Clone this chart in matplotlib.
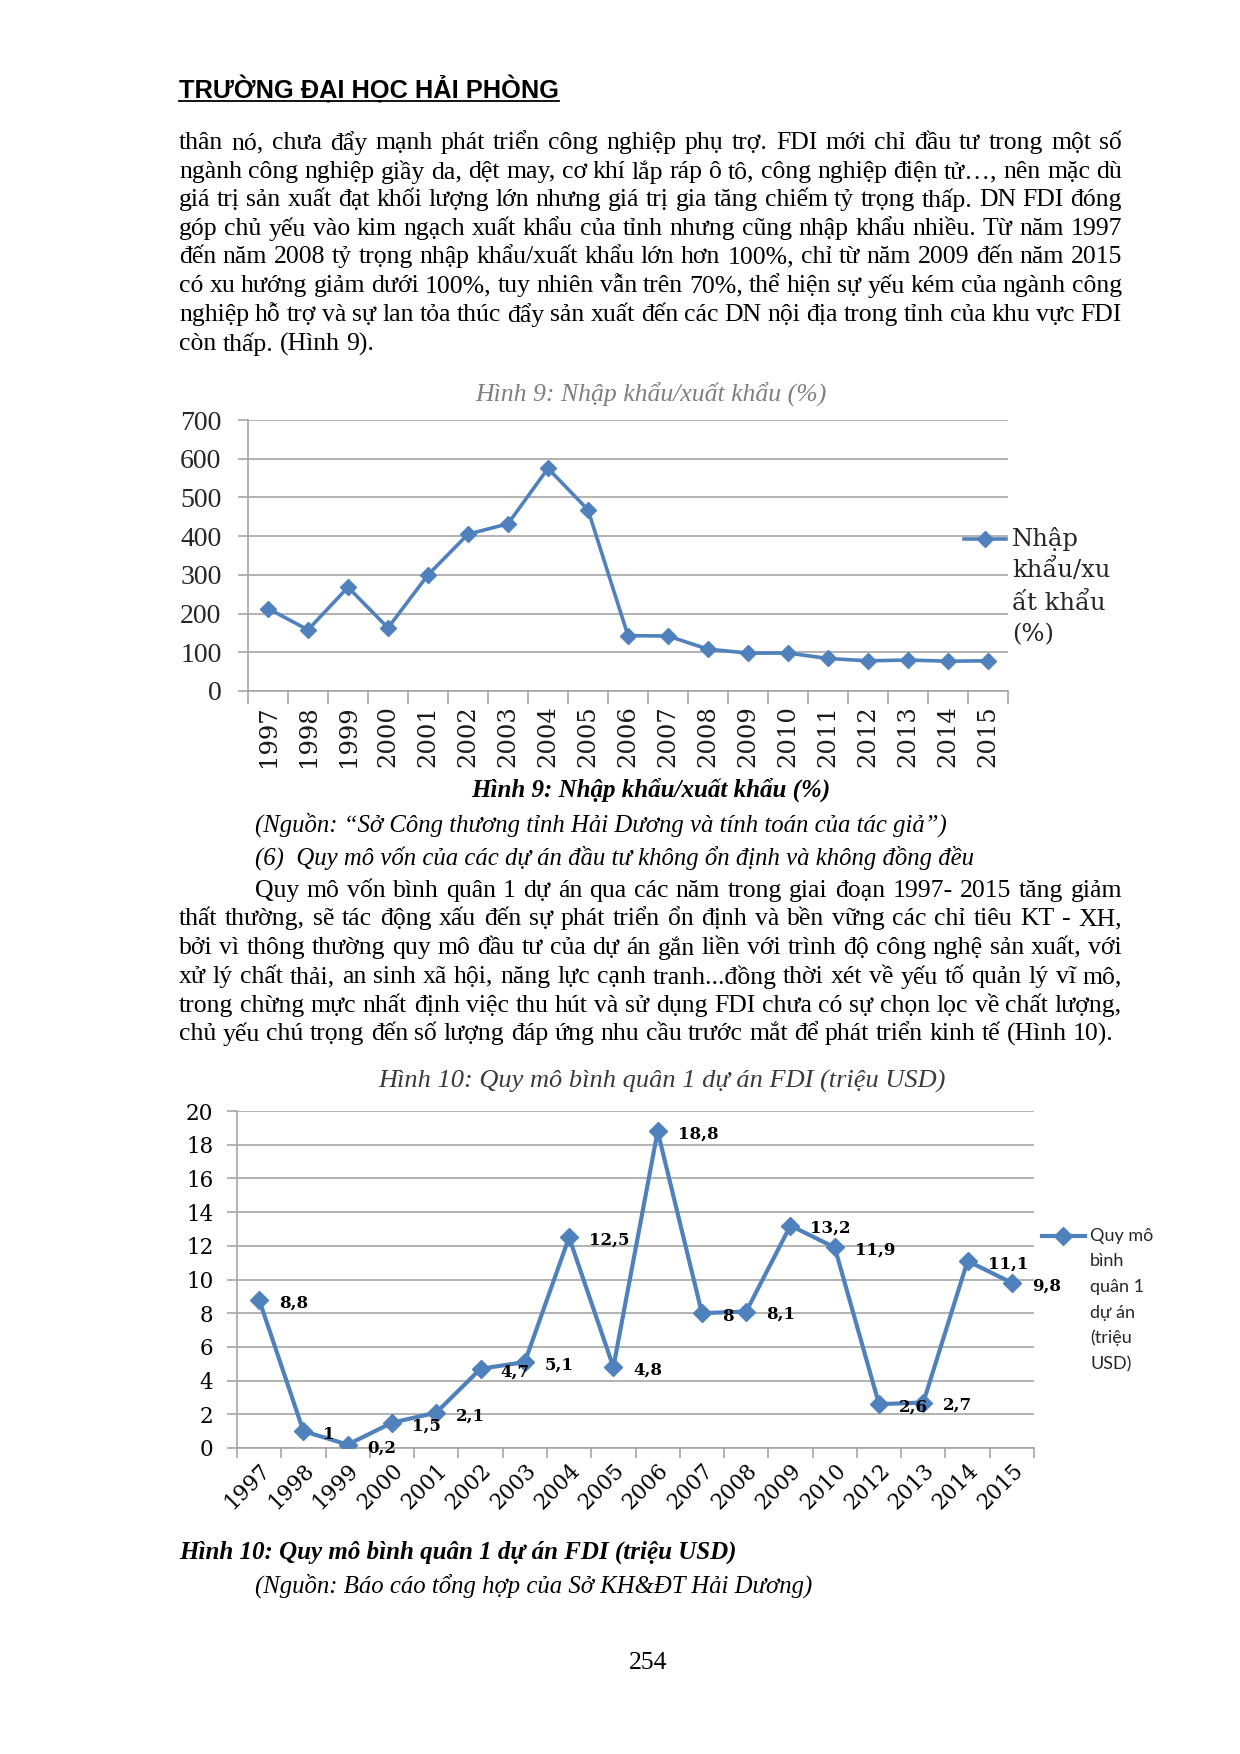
import matplotlib
matplotlib.use('Agg')
import matplotlib.pyplot as plt
from matplotlib.lines import Line2D

W, H = 1240, 1754
SERIF = ['Liberation Serif', 'DejaVu Serif']
CAMBRIA = ['DejaVu Serif']
BLUE = '#4F81BD'
GRID = '#A6A6A6'

# ---- data ----
years_h9 = ['1997', '1998', '1999', '2000', '2001', '2002', '2003', '2004', '2005', '2006',
            '2007', '2008', '2009', '2010', '2011', '2012', '2013', '2014', '2015']
ratio_h9 = [213, 158, 268, 163, 300, 405, 432, 575, 468, 143,
            142, 108, 98, 98, 84, 78, 80, 77, 78]

years_h10 = ['1997', '1998', '1999', '2000', '2001', '2002', '2003', '2004', '2005', '2006',
             '2007', '2008', '2009', '2010', '2012', '2013', '2014', '2015']
size_h10 = [8.8, 1, 0.2, 1.5, 2.1, 4.7, 5.1, 12.5, 4.8, 18.8,
            8, 8.1, 13.2, 11.9, 2.6, 2.7, 11.1, 9.8]

header = 'TRƯỜNG ĐẠI HỌC HẢI PHÒNG'
para1 = [
    'thân nó, chưa đẩy mạnh phát triển công nghiệp phụ trợ. FDI mới chỉ đầu tư trong một số',
    'ngành công nghiệp giầy da, dệt may, cơ khí lắp ráp ô tô, công nghiệp điện tử…, nên mặc dù',
    'giá trị sản xuất đạt khối lượng lớn nhưng giá trị gia tăng chiếm tỷ trọng thấp. DN FDI đóng',
    'góp chủ yếu vào kim ngạch xuất khẩu của tỉnh nhưng cũng nhập khẩu nhiều. Từ năm 1997',
    'đến năm 2008 tỷ trọng nhập khẩu/xuất khẩu lớn hơn 100%, chỉ từ năm 2009 đến năm 2015',
    'có xu hướng giảm dưới 100%, tuy nhiên vẫn trên 70%, thể hiện sự yếu kém của ngành công',
    'nghiệp hỗ trợ và sự lan tỏa thúc đẩy sản xuất đến các DN nội địa trong tỉnh của khu vực FDI',
    'còn thấp. (Hình 9).',
]
para2 = [
    'Quy mô vốn bình quân 1 dự án qua các năm trong giai đoạn 1997- 2015 tăng giảm',
    'thất thường, sẽ tác động xấu đến sự phát triển ổn định và bền vững các chỉ tiêu KT - XH,',
    'bởi vì thông thường quy mô đầu tư của dự án gắn liền với trình độ công nghệ sản xuất, với',
    'xử lý chất thải, an sinh xã hội, năng lực cạnh tranh...đồng thời xét về yếu tố quản lý vĩ mô,',
    'trong chừng mực nhất định việc thu hút và sử dụng FDI chưa có sự chọn lọc về chất lượng,',
    'chủ yếu chú trọng đến số lượng đáp ứng nhu cầu trước mắt để phát triển kinh tế (Hình 10).',
]

fig = plt.figure(figsize=(W / 100, H / 100), dpi=100)
renderer = fig.canvas.get_renderer()


def fx(x):
    return x / W


def fy(y):
    return 1 - y / H


def justify(line, y, x0, x1, size, last=False):
    words = line.split()
    texts = [fig.text(0, 0, w, fontsize=size, family=SERIF, va='center') for w in words]
    widths = [t.get_window_extent(renderer).width for t in texts]
    if last or len(words) == 1:
        space = size * 100 / 72 * 0.25
    else:
        space = (x1 - x0 - sum(widths)) / (len(words) - 1)
    x = x0
    for t, w in zip(texts, widths):
        t.set_position((fx(x), fy(y)))
        x += w + space


BODY = 18.5
CAP = 17.8
LEFT, RIGHT = 179, 1122

# header with underline
ht = fig.text(fx(LEFT), fy(89), header, fontsize=18.3, weight='bold',
              family=['Liberation Sans', 'DejaVu Sans'], va='center')
hw = ht.get_window_extent(renderer).width
fig.add_artist(Line2D([fx(LEFT), fx(LEFT + hw)], [fy(101), fy(101)], color='black', lw=1.3))

ys1 = [143, 172, 200, 229, 257, 286, 315, 344]
for i, (line, y) in enumerate(zip(para1, ys1)):
    justify(line, y, LEFT, RIGHT, BODY, last=(i == len(para1) - 1))

# ---- chart 1 ----
ax1 = fig.add_axes([fx(248), fy(691), (1008 - 248) / W, (691 - 420) / H])
x1 = range(len(years_h9))
ax1.plot(x1, ratio_h9, color=BLUE, lw=2.6, marker='D', ms=8.5, zorder=3)
ax1.set_xlim(-0.5, len(years_h9) - 0.5)
ax1.set_ylim(0, 700)
ax1.set_yticks(range(0, 701, 100))
ax1.yaxis.grid(True, color=GRID, lw=1.2)
ax1.set_axisbelow(True)
ax1.set_xticks([i - 0.5 for i in range(len(years_h9) + 1)])
ax1.set_xticklabels([])
ax1.set_xticks(list(x1), minor=True)
ax1.set_xticklabels(years_h9, minor=True, rotation=90, fontsize=17.5, family=CAMBRIA, color='#1a1a1a')
ax1.tick_params(axis='x', which='major', length=9, color=GRID, width=1.2, direction='out')
ax1.tick_params(axis='x', which='minor', length=0, pad=10)
ax1.tick_params(axis='y', length=7, color=GRID, width=1.2, pad=12)
for lab in ax1.get_yticklabels():
    lab.set_fontsize(20)
    lab.set_family(SERIF)
    lab.set_color('#262626')
for s in ['top', 'right']:
    ax1.spines[s].set_visible(False)
ax1.spines['left'].set_color(GRID)
ax1.spines['bottom'].set_color(GRID)
ax1.spines['left'].set_linewidth(1.2)
ax1.spines['bottom'].set_linewidth(1.2)

fig.text(fx(651), fy(394), 'Hình 9: Nhập khẩu/xuất khẩu (%)', fontsize=18.5, style='italic',
         family=SERIF, color='#7F7F7F', ha='center', va='center')

fig.add_artist(Line2D([fx(964), fx(1006)], [fy(539), fy(539)], color=BLUE, lw=2.6))
fig.add_artist(Line2D([fx(985)], [fy(539)], color=BLUE, marker='D', ms=8.5, lw=0))
for txt, y in zip(['Nhập', 'khẩu/xu', 'ất khẩu', '(%)'], [539, 570, 603, 635]):
    fig.text(fx(1012), fy(y), txt, fontsize=17.5, family=CAMBRIA, color='#262626', va='center')

# captions
fig.text(fx(651), fy(790), 'Hình 9: Nhập khẩu/xuất khẩu (%)', fontsize=18, style='italic',
         weight='bold', family=SERIF, ha='center', va='center')
fig.text(fx(255), fy(825), '(Nguồn: “Sở Công thương tỉnh Hải Dương và tính toán của tác giả”)',
         fontsize=CAP, style='italic', family=SERIF, va='center')
fig.text(fx(255), fy(858), '(6)  Quy mô vốn của các dự án đầu tư không ổn định và không đồng đều',
         fontsize=CAP, style='italic', family=SERIF, va='center')

ys2 = [891, 919, 948, 977, 1006, 1034]
for i, (line, y) in enumerate(zip(para2, ys2)):
    x0 = 255 if i == 0 else LEFT
    justify(line, y, x0, RIGHT, BODY, last=(i == len(para2) - 1))

# ---- chart 2 ----
ax2 = fig.add_axes([fx(237), fy(1448), (1034 - 237) / W, (1448 - 1111) / H])
x2 = range(len(years_h10))
ax2.plot(x2, size_h10, color=BLUE, lw=3, marker='D', ms=9, zorder=3)
ax2.set_xlim(-0.5, len(years_h10) - 0.5)
ax2.set_ylim(0, 20)
ax2.set_yticks(range(0, 21, 2))
ax2.yaxis.grid(True, color=GRID, lw=1.2)
ax2.set_axisbelow(True)
ax2.set_xticks([i - 0.5 for i in range(len(years_h10) + 1)])
ax2.set_xticklabels([])
ax2.set_xticks(list(x2), minor=True)
ax2.set_xticklabels(years_h10, minor=True, rotation=45, ha='right', rotation_mode='anchor',
                    fontsize=15.5, family=CAMBRIA, color='black')
ax2.tick_params(axis='x', which='major', length=7, color=GRID, width=1.2, direction='out')
ax2.tick_params(axis='x', which='minor', length=0, pad=8)
ax2.tick_params(axis='y', length=7, color=GRID, width=1.2, pad=10)
for lab in ax2.get_yticklabels():
    lab.set_fontsize(15.5)
    lab.set_family(CAMBRIA)
for s in ['top', 'right']:
    ax2.spines[s].set_visible(False)
ax2.spines['left'].set_color(GRID)
ax2.spines['bottom'].set_color(GRID)
ax2.spines['left'].set_linewidth(1.2)
ax2.spines['bottom'].set_linewidth(1.2)

for xi, v in zip(x2, size_h10):
    ax2.annotate(f'{v:g}'.replace('.', ','), (xi, v), xytext=(20, -3), textcoords='offset pixels',
                 fontsize=12, weight='bold', family=CAMBRIA, va='center', ha='left', zorder=4)

fig.text(fx(662), fy(1081), 'Hình 10: Quy mô bình quân 1 dự án FDI (triệu USD)', fontsize=19,
         style='italic', family=SERIF, color='#3a3a3a', ha='center', va='center')

fig.add_artist(Line2D([fx(1042), fx(1085)], [fy(1236), fy(1236)], color=BLUE, lw=3))
fig.add_artist(Line2D([fx(1063)], [fy(1236)], color=BLUE, marker='D', ms=9, lw=0))
leg2 = ['Quy mô', 'bình', 'quân 1', 'dự án', '(triệu', 'USD)']
for txt, y in zip(leg2, [1236, 1261, 1287, 1313, 1338, 1364]):
    fig.text(fx(1090), fy(y), txt, fontsize=13, family=['Lato', 'DejaVu Sans'], color='#262626',
             va='center')

fig.text(fx(LEFT), fy(1552), 'Hình 10: Quy mô bình quân 1 dự án FDI (triệu USD)', fontsize=18,
         style='italic', weight='bold', family=SERIF, va='center')
fig.text(fx(255), fy(1586), '(Nguồn: Báo cáo tổng hợp của Sở KH&ĐT Hải Dương)', fontsize=CAP,
         style='italic', family=SERIF, va='center')
fig.text(fx(648), fy(1663), '254', fontsize=BODY, family=SERIF, ha='center', va='center')

fig.savefig('out.png', dpi=100)
